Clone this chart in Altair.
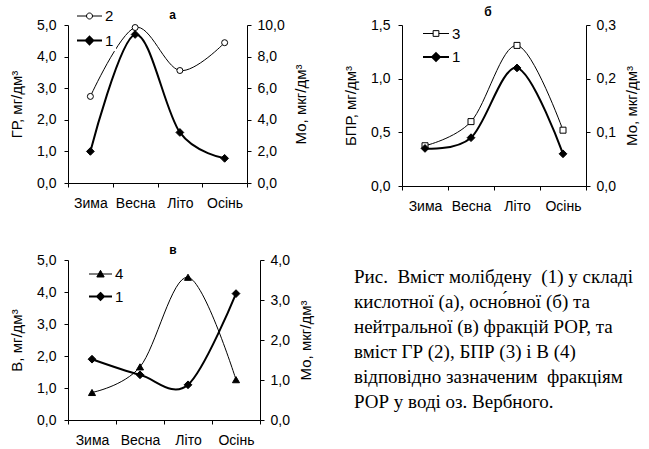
import altair as alt
import pandas as pd

seasons = ["Зима", "Весна", "Літо", "Осінь"]

# panel а
gr_a = [2.74, 4.92, 3.56, 4.44]      # ГР, mg/dm3 (left axis)
mo_a = [2.0, 9.4, 3.2, 1.56]         # Mo, mkg/dm3 (right axis)
# panel б
bpr_b = [0.375, 0.60, 1.31, 0.52]    # БПР
mo_b = [0.07, 0.09, 0.22, 0.06]
# panel в
b_c = [0.86, 1.66, 4.46, 1.26]       # В
mo_c = [1.52, 1.13, 0.88, 3.16]

caption_lines = [
    "Рис.\u00a0 Вміст молібдену\u00a0 (1) у складі",
    "кислотної (а), осно\u0301вної (б) та",
    "нейтральної (в) фракцій РОР, та",
    "вміст ГР (2), БПР (3) і В (4)",
    "відповідно зазначеним\u00a0 фракціям",
    "РОР у воді оз. Вербного.",
]

FONT = "Liberation Sans"
LBL = "replace(format(datum.value, '.1f'), '.', ',')"

# legend symbols (line + marker), unit square coordinates
P_CIRCLE = "M-1,0H-0.24M0.24,0H1M-0.24,0A0.24,0.24 0 1,1 0.24,0A0.24,0.24 0 1,1 -0.24,0Z"
P_DIAMOND = "M-1,0H1M0,-0.3L0.3,0L0,0.3L-0.3,0Z"
P_SQUARE = "M-1,0H-0.22M0.22,0H1M-0.22,-0.22H0.22V0.22H-0.22Z"
P_TRI = "M-1,0H1M0,-0.32L0.32,0.26H-0.32Z"


def yaxis(orient, values, title):
    right = orient == "right"
    kw = dict(
        orient=orient, values=values, labelExpr=LBL, title=title,
        titleFont=FONT, titleFontSize=15, titleFontWeight="normal",
        titleColor="black", titlePadding=9 if right else 12,
        labelFont=FONT, labelFontSize=14, labelColor="black",
        labelPadding=6 if right else 8, tickSize=4, tickColor="black",
        domainColor="black", grid=False,
    )
    if right:
        kw.update(titleAngle=270, titleBaseline="top")
    return alt.Axis(**kw)


def panel(left_vals, right_vals, key, left_title, left_dom, left_ticks,
          right_dom, right_ticks, title, title_dx, title_dy, width, height,
          shape, fill, psize, leg_path, leg_x, leg_y, sym_size, row_pad):
    df_l = pd.DataFrame({"season": seasons, "value": left_vals, "series": key})
    df_r = pd.DataFrame({"season": seasons, "value": right_vals, "series": "1"})
    x = alt.X("season:N", sort=seasons,
              scale=alt.Scale(paddingInner=0, paddingOuter=0),
              axis=alt.Axis(title=None, tickBand="extent", labelAngle=0,
                            labelFont=FONT, labelFontSize=14, labelColor="black",
                            labelPadding=9, tickSize=4, tickColor="black",
                            domainColor="black", grid=False))
    yl = alt.Y("value:Q", scale=alt.Scale(domain=left_dom, nice=False, zero=True),
               axis=yaxis("left", left_ticks, left_title))
    yr = alt.Y("value:Q", scale=alt.Scale(domain=right_dom, nice=False, zero=True),
               axis=yaxis("right", right_ticks, "Мо, мкг/дм³"))
    bl = alt.Chart(df_l).encode(x=x, y=yl)
    left = alt.layer(
        bl.mark_line(interpolate="cardinal", color="black", strokeWidth=1),
        bl.mark_point(shape=shape, filled=True, fill=fill, stroke="black",
                      strokeWidth=1, size=psize, opacity=1),
    )
    br = alt.Chart(df_r).encode(x=x, y=yr)
    right = alt.layer(
        br.mark_line(interpolate="cardinal", color="black", strokeWidth=2),
        br.mark_point(shape="diamond", filled=True, fill="black", stroke="black",
                      strokeWidth=1, size=60, opacity=1),
    )
    leg = alt.Legend(title=None, orient="none", legendX=leg_x, legendY=leg_y,
                     symbolSize=sym_size, labelFont=FONT, labelFontSize=15,
                     labelColor="black", labelOffset=2, rowPadding=row_pad,
                     padding=2, fillColor="white", symbolOpacity=1)
    dom = [key, "1"]
    legend_layer = alt.Chart(pd.concat([df_l, df_r])).transform_filter("false").mark_point(
        filled=True, opacity=1
    ).encode(
        shape=alt.Shape("series:N", scale=alt.Scale(domain=dom, range=[leg_path, P_DIAMOND]), legend=leg),
        fill=alt.Fill("series:N", scale=alt.Scale(domain=dom, range=[fill, "black"]), legend=leg),
        stroke=alt.Stroke("series:N", scale=alt.Scale(domain=dom, range=["black", "black"]), legend=leg),
        strokeWidth=alt.StrokeWidth("series:N", scale=alt.Scale(domain=dom, range=[1, 2]), legend=leg),
    )
    return alt.layer(left, right, legend_layer).resolve_scale(y="independent").properties(
        width=width, height=height,
        title=alt.TitleParams(title, font=FONT, fontSize=12, fontWeight="bold",
                              color="black", frame="group", dx=title_dx,
                              dy=title_dy, offset=0),
    )


pa = panel(gr_a, mo_a, "2", "ГР, мг/дм³", [0, 5], [0, 1, 2, 3, 4, 5],
           [0, 10], [0, 2, 4, 6, 8, 10], "а", 15, 21, 179, 158,
           "circle", "white", 36, P_CIRCLE, 6, -24, 625, 3)
pb = panel(bpr_b, mo_b, "3", "БПР, мг/дм³", [0, 1.5], [0, 0.5, 1.0, 1.5],
           [0, 0.3], [0, 0.1, 0.2, 0.3], "б", -6, 1, 184, 161,
           "square", "white", 36, P_SQUARE, 18, -7, 676, 1)
pc = panel(b_c, mo_c, "4", "В, мг/дм³", [0, 5], [0, 1, 2, 3, 4, 5],
           [0, 4], [0, 1, 2, 3, 4], "в", 9, 4, 192, 160,
           "triangle-up", "black", 50, P_TRI, 18, 0, 529, 2)

df_cap = pd.DataFrame({"i": list(range(len(caption_lines))), "t": caption_lines})
cap = alt.Chart(df_cap).mark_text(
    align="left", baseline="alphabetic", font="Liberation Serif, serif",
    fontSize=19, color="black"
).encode(
    x=alt.value(-48),
    y=alt.Y("i:O", scale=alt.Scale(type="point", padding=0.92), axis=None),
    text="t:N",
).properties(width=184, height=171)

chart = alt.concat(
    pa, pb, pc, cap, columns=2, bounds="flush", align="each",
    spacing={"row": 74, "column": 142},
).resolve_scale(
    shape="independent", fill="independent", stroke="independent",
    strokeWidth="independent",
).resolve_legend(
    shape="independent", fill="independent", stroke="independent",
    strokeWidth="independent",
).properties(
    padding={"left": 9, "top": 1, "right": 0, "bottom": 0},
    background="white",
).configure_view(stroke=None)

chart.save("out.html", embed_options={"renderer": "svg", "actions": False})
